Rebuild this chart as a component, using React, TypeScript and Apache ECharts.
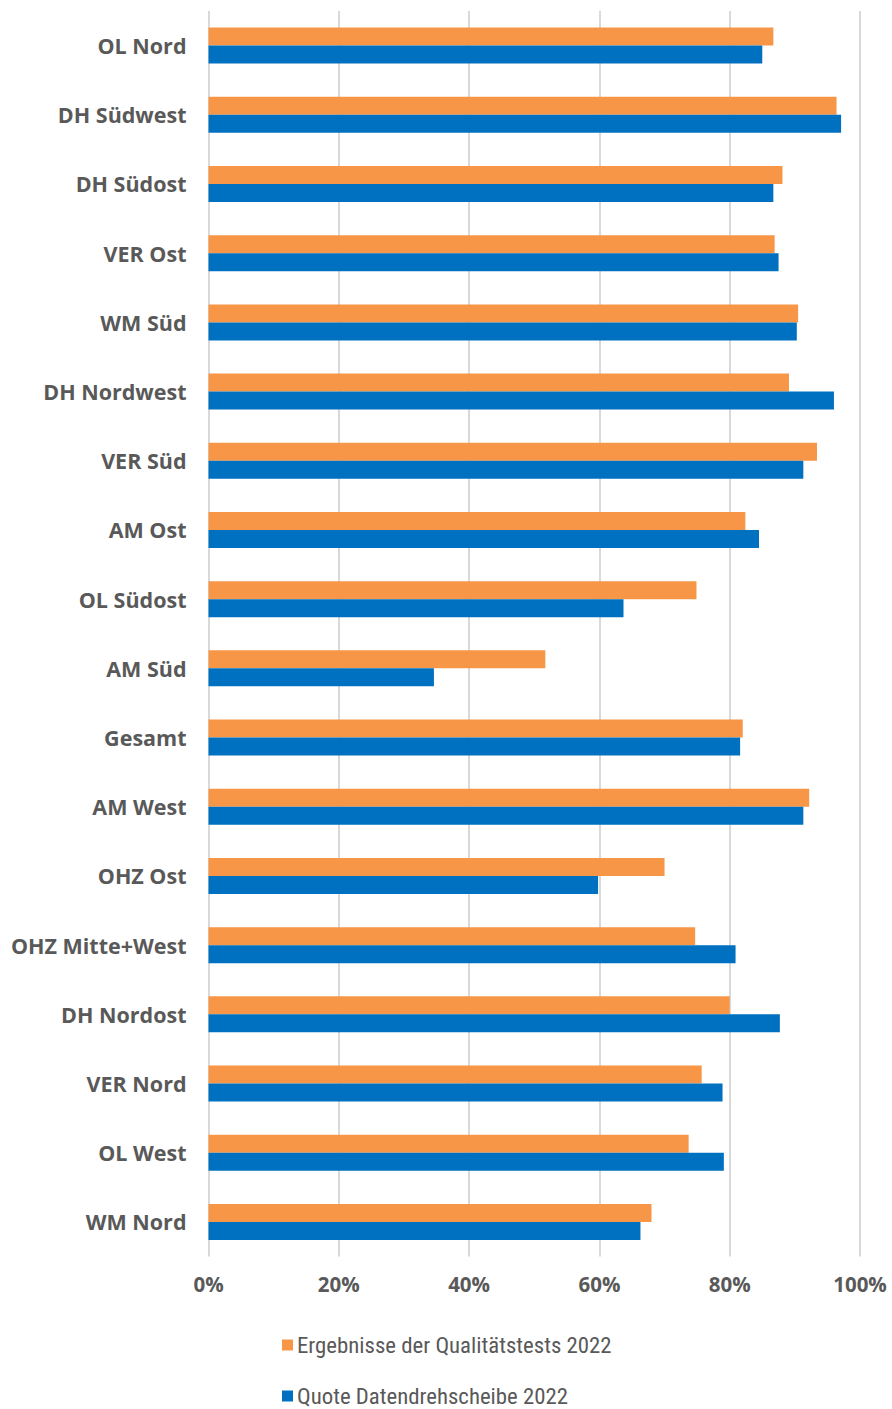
import React, { useEffect, useRef } from "react";
import * as echarts from "echarts";

// Regions, listed top to bottom
const categories = [
  "OL Nord",
  "DH Südwest",
  "DH Südost",
  "VER Ost",
  "WM Süd",
  "DH Nordwest",
  "VER Süd",
  "AM Ost",
  "OL Südost",
  "AM Süd",
  "Gesamt",
  "AM West",
  "OHZ Ost",
  "OHZ Mitte+West",
  "DH Nordost",
  "VER Nord",
  "OL West",
  "WM Nord",
];

const seriesQualitaet = "Ergebnisse der Qualitätstests 2022";
const seriesQuote = "Quote Datendrehscheibe 2022";

// Percent values
const qualitaetValues = [
  86.7, 96.4, 88.1, 86.9, 90.5, 89.1, 93.4, 82.4, 74.9, 51.7, 82.0, 92.2, 70.0,
  74.7, 80.0, 75.7, 73.7, 68.0,
];
const quoteValues = [
  85.0, 97.1, 86.7, 87.5, 90.3, 96.0, 91.3, 84.5, 63.7, 34.6, 81.6, 91.3, 59.8,
  80.9, 87.7, 78.9, 79.1, 66.3,
];

const textGray = "#595959";
const labelFont = "'Open Sans', 'Noto Sans', sans-serif";
const legendFont =
  "'Liberation Sans Narrow', 'Roboto Condensed', 'Noto Sans', sans-serif";

// One single-entry legend per series, stacked below the plot
const legendEntry = (name: string, top: number) => ({
  orient: "vertical",
  left: 282,
  top,
  padding: 0,
  icon: "rect",
  itemWidth: 11,
  itemHeight: 11,
  textStyle: {
    fontFamily: legendFont,
    fontSize: 22.8,
    lineHeight: 26,
    color: textGray,
    padding: [0, 0, 0, -1],
  },
  data: [name],
});

export default function App() {
  const ref = useRef<HTMLDivElement>(null);

  useEffect(() => {
    if (!ref.current) return;
    const chart = echarts.init(ref.current, undefined, { renderer: "svg" });
    chart.setOption({
      animation: false,
      backgroundColor: "#ffffff",
      grid: {
        left: 208.5,
        right: 32,
        top: 11,
        bottom: 152.5,
        containLabel: false,
      },
      legend: [legendEntry(seriesQualitaet, 1332), legendEntry(seriesQuote, 1383)],
      xAxis: {
        type: "value",
        min: 0,
        max: 100,
        interval: 20,
        axisLine: { show: false },
        axisTick: { show: false },
        axisLabel: {
          formatter: "{value}%",
          fontFamily: labelFont,
          fontWeight: "bold",
          fontSize: 20.5,
          color: textGray,
          margin: 17,
        },
        splitLine: { lineStyle: { color: "#D9D9D9", width: 2 } },
      },
      yAxis: {
        type: "category",
        inverse: true,
        data: categories,
        axisLine: { show: false },
        axisTick: { show: false },
        axisLabel: {
          fontFamily: labelFont,
          fontWeight: "bold",
          fontSize: 21.5,
          color: textGray,
          margin: 22,
          padding: [0, 0, 2, 0],
        },
      },
      series: [
        {
          name: seriesQualitaet,
          type: "bar",
          data: qualitaetValues,
          barWidth: 18,
          barGap: "0%",
          itemStyle: { color: "#F79646" },
        },
        {
          name: seriesQuote,
          type: "bar",
          data: quoteValues,
          barWidth: 18,
          barGap: "0%",
          itemStyle: { color: "#0070C0" },
        },
      ],
    });
    return () => chart.dispose();
  }, []);

  return (
    <div
      ref={ref}
      style={{ position: "absolute", left: 0, top: 0, width: 892, height: 1409 }}
    />
  );
}
